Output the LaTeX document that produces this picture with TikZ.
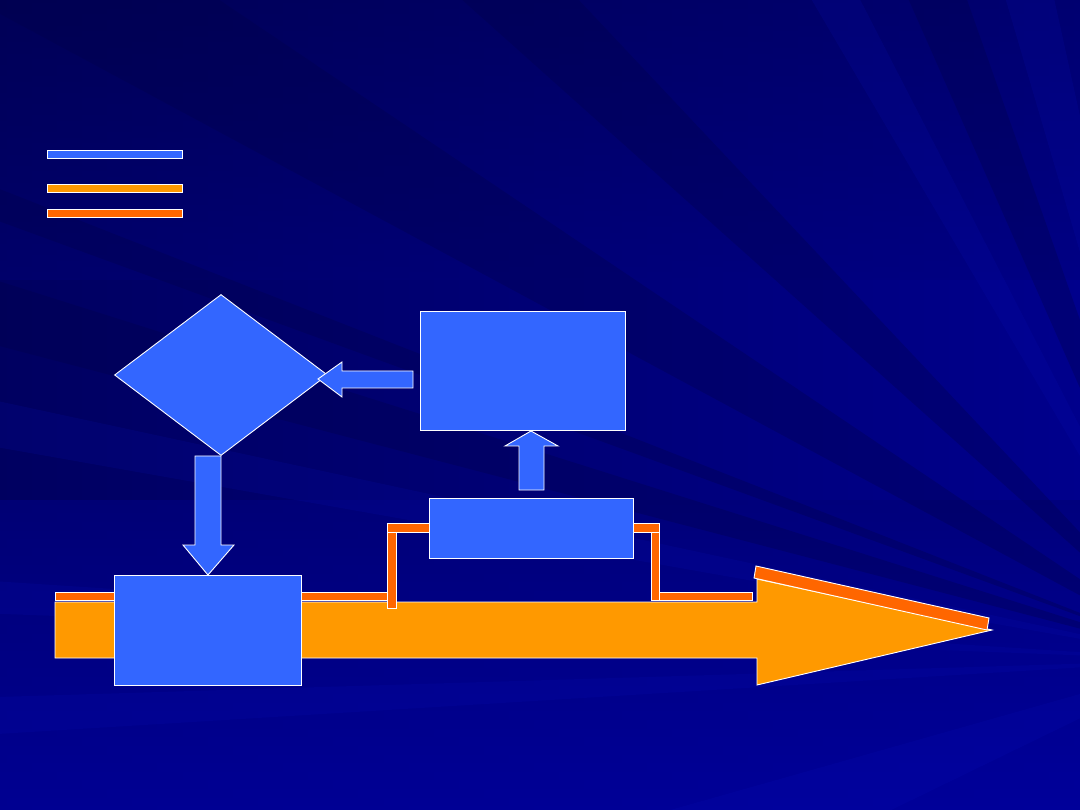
\documentclass[tikz,border=0pt]{standalone}
\usetikzlibrary{shapes.geometric}
\definecolor{bgbase}{HTML}{00007A}
\definecolor{bgdark}{HTML}{000048}
\definecolor{bglight}{HTML}{0A14C0}
\definecolor{bgbottom}{HTML}{00009E}
\definecolor{boxblue}{HTML}{3366FF}
\definecolor{arrorange}{HTML}{FF9900}
\definecolor{lineorange}{HTML}{FF6600}
\tikzset{
  outl/.style={draw=white, line width=0.9pt},
  bluebox/.style={outl, fill=boxblue, rectangle, inner sep=0pt, anchor=north west},
  legendbar/.style={outl, rectangle, inner sep=0pt, anchor=north west, minimum width=135pt, minimum height=8pt},
  blockarrow/.style={outl, fill=boxblue, line join=miter},
  orangebar/.style={outl, fill=lineorange},
  darkray/.style={fill=bgdark, opacity=0.3},
  lightray/.style={fill=bglight, opacity=0.14},
}
\begin{document}
\begin{tikzpicture}[x=1pt,y=-1pt]
\useasboundingbox (0,0) rectangle (1080,810);
% background
\fill[bgbase] (0,0) rectangle (1080,810);
\begin{scope}
\clip (0,0) rectangle (1080,810);
\shade[left color=bgdark, right color=bgbottom, opacity=0.5] (0,0) rectangle (1080,810);
\shade[top color=bgdark, bottom color=bgbase, opacity=0.4] (0,0) rectangle (1080,280);
\shade[top color=bgbase, bottom color=bgbottom, opacity=0.8] (0,500) rectangle (1080,810);
\coordinate (F) at (1200,660);
\fill[darkray] (F) -- (-100,-40) -- (160,-40) -- cycle;
\fill[darkray] (F) -- (-100,250) -- (-100,320) -- cycle;
\fill[darkray] (F) -- (440,-20) -- (560,-20) -- cycle;
\fill[darkray] (F) -- (-100,150) -- (-100,185) -- cycle;
\fill[darkray] (F) -- (900,-20) -- (960,-20) -- cycle;
\fill[lightray] (F) -- (-100,380) -- (-100,430) -- cycle;
\fill[lightray] (F) -- (-100,575) -- (-100,610) -- cycle;
\fill[lightray] (F) -- (800,-20) -- (850,-20) -- cycle;
\fill[lightray] (F) -- (1000,-20) -- (1050,-20) -- cycle;
\fill[lightray] (F) -- (-100,700) -- (-100,740) -- cycle;
\fill[lightray] (F) -- (600,830) -- (850,830) -- cycle;
\end{scope}
% legend bars
\node[legendbar, fill=boxblue] (lg1) at (47,150) {};
\node[legendbar, fill=arrorange] (lg2) at (47,184) {};
\node[legendbar, fill=lineorange] (lg3) at (47,209) {};
% big orange arrow
\draw[outl, fill=arrorange, line join=miter] (55,602) -- (757,602) -- (757,579) -- (992,630) -- (757,685) -- (757,658) -- (55,658) -- cycle;
\draw[orangebar] (756,566) -- (989,618) -- (987,630) -- (754,578) -- cycle;
% orange lines
\draw[orangebar] (55,592) rectangle (387,600);
\draw[orangebar] (387,523) rectangle (429,532);
\draw[orangebar] (387,532) rectangle (396,608);
\draw[orangebar] (633,523) rectangle (659,532);
\draw[orangebar] (651,532) rectangle (659,600);
\draw[orangebar] (659,592) rectangle (752,600);
% boxes
\node[bluebox, minimum width=187pt, minimum height=110pt] (b1) at (114,575) {};
\node[bluebox, minimum width=205pt, minimum height=119pt] (b2) at (420,311) {};
\node[bluebox, minimum width=204pt, minimum height=60pt] (b3) at (429,498) {};
\node[diamond, outl, fill=boxblue, inner sep=0pt, minimum width=213pt, minimum height=161pt] (dia) at (221,375) {};
% block arrows
\draw[blockarrow] (dia.south) -- (221,545) -- (234,545) -- (b1.north) -- (183,545) -- (195,545) -- (195,456) -- cycle;
\draw[blockarrow] (519,490) -- (544,490) -- (544,446) -- (558,446) -- (531,431) -- (505,446) -- (519,446) -- cycle;
\draw[blockarrow] (413,371) -- (342,371) -- (342,362) -- (318,379) -- (342,397) -- (342,388) -- (413,388) -- cycle;
\end{tikzpicture}
\end{document}
